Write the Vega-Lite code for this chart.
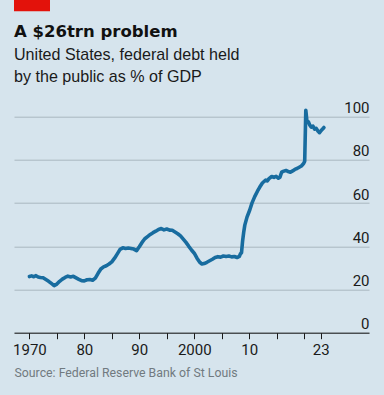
{
  "$schema": "https://vega.github.io/schema/vega-lite/v6.json",
  "width": 355,
  "height": 216,
  "autosize": {"type": "none"},
  "padding": {"left": 14, "top": 116.7, "right": 15, "bottom": 62.3},
  "background": "#d6e4ed",
  "title": {
    "text": "A $26trn problem",
    "subtitle": ["United States, federal debt held", "by the public as % of GDP"],
    "anchor": "start",
    "frame": "group",
    "offset": 2,
    "dy": 87,
    "font": "DejaVu Sans",
    "fontSize": 16.5,
    "fontWeight": "bold",
    "color": "#111111",
    "subtitleFont": "Liberation Sans",
    "subtitleFontSize": 16.1,
    "subtitleLineHeight": 21.5,
    "subtitlePadding": 7,
    "subtitleColor": "#1a1a1a"
  },
  "data": {"values": [
    {"year": 1970.0, "debt": 26.0}, {"year": 1970.4, "debt": 26.3}, {"year": 1970.8, "debt": 25.9},
    {"year": 1971.2, "debt": 26.4}, {"year": 1971.6, "debt": 25.8}, {"year": 1972.0, "debt": 25.6},
    {"year": 1972.5, "debt": 25.4}, {"year": 1973.0, "debt": 24.6}, {"year": 1973.5, "debt": 23.8},
    {"year": 1974.0, "debt": 22.8}, {"year": 1974.5, "debt": 21.8}, {"year": 1975.0, "debt": 22.5},
    {"year": 1975.5, "debt": 23.8}, {"year": 1976.0, "debt": 24.8}, {"year": 1976.5, "debt": 25.6},
    {"year": 1977.0, "debt": 26.2}, {"year": 1977.5, "debt": 25.8}, {"year": 1978.0, "debt": 26.1},
    {"year": 1978.5, "debt": 25.4}, {"year": 1979.0, "debt": 24.7}, {"year": 1979.5, "debt": 24.1},
    {"year": 1980.0, "debt": 24.0}, {"year": 1980.5, "debt": 24.5}, {"year": 1981.0, "debt": 24.6},
    {"year": 1981.5, "debt": 24.3}, {"year": 1982.0, "debt": 25.3}, {"year": 1982.5, "debt": 27.5},
    {"year": 1983.0, "debt": 29.5}, {"year": 1983.5, "debt": 30.5}, {"year": 1984.0, "debt": 31.0},
    {"year": 1984.5, "debt": 31.8}, {"year": 1985.0, "debt": 32.8}, {"year": 1985.5, "debt": 34.5},
    {"year": 1986.0, "debt": 36.5}, {"year": 1986.5, "debt": 38.6}, {"year": 1987.0, "debt": 39.3},
    {"year": 1987.5, "debt": 39.0}, {"year": 1988.0, "debt": 39.2}, {"year": 1988.5, "debt": 39.0},
    {"year": 1989.0, "debt": 38.7}, {"year": 1989.5, "debt": 38.0}, {"year": 1990.0, "debt": 39.8},
    {"year": 1990.5, "debt": 41.8}, {"year": 1991.0, "debt": 43.5}, {"year": 1991.5, "debt": 44.5},
    {"year": 1992.0, "debt": 45.5}, {"year": 1992.5, "debt": 46.3}, {"year": 1993.0, "debt": 47.0},
    {"year": 1993.5, "debt": 47.8}, {"year": 1994.0, "debt": 48.2}, {"year": 1994.5, "debt": 47.6},
    {"year": 1995.0, "debt": 48.0}, {"year": 1995.5, "debt": 47.5}, {"year": 1996.0, "debt": 47.4},
    {"year": 1996.5, "debt": 46.6}, {"year": 1997.0, "debt": 45.8}, {"year": 1997.5, "debt": 44.8},
    {"year": 1998.0, "debt": 43.3}, {"year": 1998.5, "debt": 41.8}, {"year": 1999.0, "debt": 40.0},
    {"year": 1999.5, "debt": 38.3}, {"year": 2000.0, "debt": 36.8}, {"year": 2000.5, "debt": 34.5},
    {"year": 2001.0, "debt": 32.6}, {"year": 2001.4, "debt": 31.8}, {"year": 2001.8, "debt": 32.0},
    {"year": 2002.3, "debt": 32.6}, {"year": 2002.8, "debt": 33.3}, {"year": 2003.3, "debt": 34.0},
    {"year": 2003.8, "debt": 34.8}, {"year": 2004.3, "debt": 35.2}, {"year": 2004.8, "debt": 35.0},
    {"year": 2005.3, "debt": 35.5}, {"year": 2005.8, "debt": 35.3}, {"year": 2006.3, "debt": 35.5},
    {"year": 2006.8, "debt": 35.1}, {"year": 2007.3, "debt": 35.3}, {"year": 2007.8, "debt": 34.8},
    {"year": 2008.2, "debt": 35.3}, {"year": 2008.4, "debt": 36.5}, {"year": 2008.6, "debt": 37.0},
    {"year": 2008.8, "debt": 42.5}, {"year": 2009.0, "debt": 46.5}, {"year": 2009.2, "debt": 49.8},
    {"year": 2009.6, "debt": 53.5}, {"year": 2010.1, "debt": 56.8}, {"year": 2010.5, "debt": 60.0},
    {"year": 2011.0, "debt": 63.0}, {"year": 2011.5, "debt": 65.5}, {"year": 2011.9, "debt": 67.3},
    {"year": 2012.4, "debt": 69.3}, {"year": 2013.0, "debt": 70.7}, {"year": 2013.3, "debt": 70.3},
    {"year": 2013.6, "debt": 71.3}, {"year": 2014.1, "debt": 72.3}, {"year": 2014.5, "debt": 71.9},
    {"year": 2014.9, "debt": 72.4}, {"year": 2015.3, "debt": 71.5}, {"year": 2015.6, "debt": 72.0},
    {"year": 2015.9, "debt": 74.3}, {"year": 2016.3, "debt": 74.8}, {"year": 2016.7, "debt": 75.1},
    {"year": 2017.1, "debt": 74.6}, {"year": 2017.5, "debt": 74.3}, {"year": 2017.9, "debt": 74.9},
    {"year": 2018.3, "debt": 75.6}, {"year": 2018.7, "debt": 76.0}, {"year": 2019.1, "debt": 76.6},
    {"year": 2019.5, "debt": 77.2}, {"year": 2019.9, "debt": 78.3}, {"year": 2020.1, "debt": 79.4},
    {"year": 2020.3, "debt": 103.0}, {"year": 2020.5, "debt": 98.0}, {"year": 2020.8, "debt": 97.5},
    {"year": 2021.0, "debt": 96.2}, {"year": 2021.3, "debt": 95.2}, {"year": 2021.6, "debt": 95.6},
    {"year": 2021.9, "debt": 94.2}, {"year": 2022.2, "debt": 94.6}, {"year": 2022.5, "debt": 93.4},
    {"year": 2022.8, "debt": 92.6}, {"year": 2023.1, "debt": 93.6}, {"year": 2023.4, "debt": 94.4},
    {"year": 2023.6, "debt": 95.0}
  ]},
  "layer": [
    {
      "mark": {"type": "line", "color": "#186c9f", "strokeWidth": 3.6, "strokeJoin": "round", "strokeCap": "round"},
      "encoding": {
        "x": {
          "field": "year", "type": "quantitative",
          "scale": {"domain": [1967.2, 2031.8], "nice": false, "zero": false},
          "axis": {
            "values": [1970, 1975, 1980, 1985, 1990, 1995, 2000, 2005, 2010, 2015, 2020, 2023],
            "labelExpr": "datum.value == 1970 ? '1970' : datum.value == 1980 ? '80' : datum.value == 1990 ? '90' : datum.value == 2000 ? '2000' : datum.value == 2010 ? '10' : datum.value == 2023 ? '23' : ''",
            "grid": false,
            "domainColor": "#1a1a1a",
            "domainWidth": 1,
            "tickColor": "#1a1a1a",
            "tickSize": 6,
            "labelFont": "Roboto",
            "labelFontSize": 15,
            "labelColor": "#1a1a1a",
            "labelPadding": 4,
            "labelFlush": false,
            "labelOverlap": false,
            "title": "Source: Federal Reserve Bank of St Louis",
            "titleAnchor": "start",
            "titleAlign": "left",
            "titleFont": "Roboto",
            "titleFontSize": 12.3,
            "titleFontWeight": "normal",
            "titleColor": "#717a80",
            "titlePadding": 9
          }
        },
        "y": {
          "field": "debt", "type": "quantitative",
          "scale": {"domain": [0, 100], "nice": false},
          "axis": {
            "orient": "right",
            "values": [0, 20, 40, 60, 80, 100],
            "grid": true,
            "gridColor": "#aab7bf",
            "gridWidth": 1,
            "domain": false,
            "ticks": false,
            "labelAlign": "right",
            "labelBaseline": "alphabetic",
            "labelOffset": -4,
            "labelPadding": 0,
            "labelFont": "Roboto",
            "labelFontSize": 15,
            "labelColor": "#1a1a1a",
            "title": null
          }
        }
      }
    },
    {
      "data": {"values": [{}]},
      "mark": {"type": "rect", "color": "#e3120b"},
      "encoding": {
        "x": {"value": 0},
        "x2": {"value": 36},
        "y": {"value": -117},
        "y2": {"value": -105.5}
      }
    }
  ],
  "config": {
    "view": {"stroke": null}
  }
}
